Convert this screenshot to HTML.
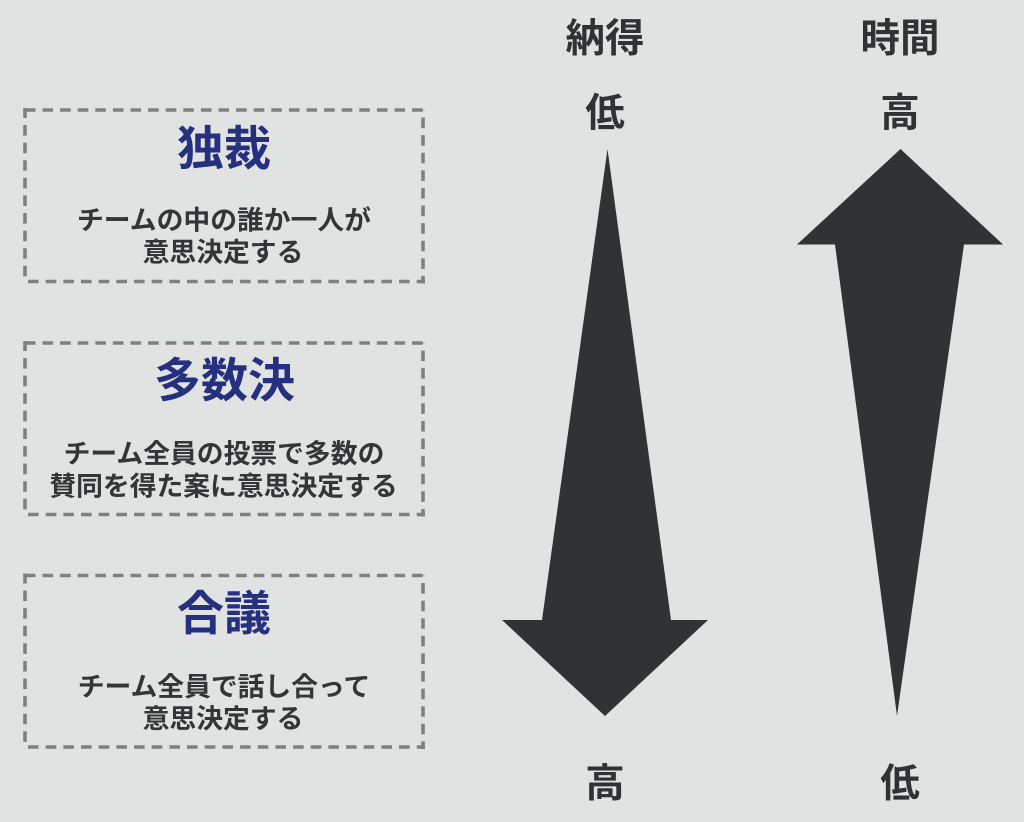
<!DOCTYPE html>
<html lang="ja">
<head>
<meta charset="utf-8">
<title>意思決定の方法</title>
<style>
html,body{margin:0;padding:0;background:#e1e3e2;}
body{width:1024px;height:822px;overflow:hidden;position:relative;}
svg{position:absolute;left:0;top:0;display:block;}
text{font-family:"Liberation Sans","Noto Sans CJK JP",sans-serif;font-weight:700;text-anchor:middle;}
.h{fill:#25317f;font-size:47px;}
.d{fill:#333636;font-size:26.800px;}
.l{fill:#303333;font-size:39.500px;}
line{stroke:#808080;stroke-width:3.600;fill:none;}
.t{stroke-dasharray:10.600 7;stroke-dashoffset:15.700;}
.r{stroke-dasharray:10.600 7;stroke-dashoffset:10.100;}
.b{stroke-dasharray:10.600 7.070;stroke-dashoffset:12.670;}
.e{stroke-dasharray:10.600 7;stroke-dashoffset:0.600;}
</style>
</head>
<body>
<svg width="1024" height="822" viewBox="0 0 1024 822" xmlns="http://www.w3.org/2000/svg">
<g>
<line class="t" x1="23" y1="110" x2="425" y2="110"/>
<line class="r" x1="423" y1="110" x2="423" y2="283.500"/>
<line class="b" x1="23" y1="281.500" x2="425" y2="281.500"/>
<line class="e" x1="25" y1="108" x2="25" y2="283.500"/>
</g>
<g transform="translate(0,233)">
<line class="t" x1="23" y1="110" x2="425" y2="110"/>
<line class="r" x1="423" y1="110" x2="423" y2="283.500"/>
<line class="b" x1="23" y1="281.500" x2="425" y2="281.500"/>
<line class="e" x1="25" y1="108" x2="25" y2="283.500"/>
</g>
<g transform="translate(0,465.500)">
<line class="t" x1="23" y1="110" x2="425" y2="110"/>
<line class="r" x1="423" y1="110" x2="423" y2="283.500"/>
<line class="b" x1="23" y1="281.500" x2="425" y2="281.500"/>
<line class="e" x1="25" y1="108" x2="25" y2="283.500"/>
</g>

<text class="h" x="224" y="165">独裁</text>
<text class="d" x="224" y="229.500">チームの中の誰か一人が</text>
<text class="d" x="223" y="261.500">意思決定する</text>

<text class="h" x="224.500" y="397">多数決</text>
<text class="d" x="224" y="463">チーム全員の投票で多数の</text>
<text class="d" x="223.500" y="495.500">賛同を得た案に意思決定する</text>

<text class="h" x="224" y="630">合議</text>
<text class="d" x="224" y="696">チーム全員で話し合って</text>
<text class="d" x="223" y="728">意思決定する</text>

<text class="l" x="605" y="52">納得</text>
<text class="l" x="900" y="52">時間</text>
<text class="l" x="605" y="126.500">低</text>
<text class="l" x="900" y="126.500">高</text>
<text class="l" x="605" y="797">高</text>
<text class="l" x="900" y="797">低</text>

<polygon fill="#303333" points="607.500,149 671,620 708,620 605,716 502,620 542,620"/>
<polygon fill="#303333" points="900.500,149 1003,244.500 964,244.500 897,716 835,244.500 797,244.500"/>
</svg>
</body>
</html>
